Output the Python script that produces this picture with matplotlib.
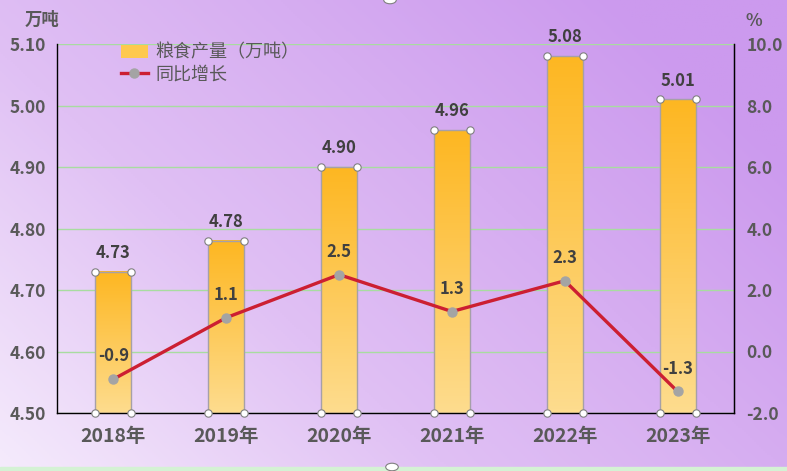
import numpy as np
import matplotlib.pyplot as plt
from matplotlib.colors import LinearSegmentedColormap
from matplotlib.patches import Circle, Rectangle

plt.rcParams['font.family'] = ['Noto Sans CJK SC', 'DejaVu Sans']

years = ["2018年", "2019年", "2020年", "2021年", "2022年", "2023年"]
output = [4.73, 4.78, 4.90, 4.96, 5.08, 5.01]        # 粮食产量 (万吨)
growth = [-0.9, 1.1, 2.5, 1.3, 2.3, -1.3]            # 同比增长 (%)

TXT = "#595959"
LBL = "#404040"
BAR_W = 0.32

fig = plt.figure(figsize=(7.87, 4.71), dpi=100)

# background gradient: light lavender bottom-left -> purple right
bg = fig.add_axes([0, 0, 1, 1], zorder=-10)
xx, yy = np.meshgrid(np.linspace(0, 1, 400), np.linspace(0, 1, 240))
t = np.clip(xx * 0.7 + yy * 0.45, 0, 1)
bg_cmap = LinearSegmentedColormap.from_list(
    "bg", [(0, "#f5ebfc"), (0.4, "#e0c0f4"), (1, "#cc9aee")])
bg.imshow(t, cmap=bg_cmap, origin="lower", extent=[0, 1, 0, 1], aspect="auto")
bg.add_patch(Rectangle((0, 0), 1, 4 / 471, color="#d4f2d4", transform=bg.transAxes))
bg.set_xlim(0, 1)
bg.set_ylim(0, 1)
bg.axis("off")
for cx, cy in [(390 / 787, 1.0), (392 / 787, 4 / 471)]:
    bg.add_patch(Circle((cx, cy), 0.008, facecolor="white", edgecolor="#808080",
                        lw=0.8, transform=bg.transAxes))

ax = fig.add_axes([57 / 787, 1 - 413 / 471, 677 / 787, 369 / 471])
ax.set_facecolor("none")
x = np.arange(len(years))

bar_cmap = LinearSegmentedColormap.from_list("bar", ["#fedc8e", "#fdb722"])
grad = np.linspace(0, 1, 100).reshape(-1, 1)
for xi, v in zip(x, output):
    ax.imshow(grad, cmap=bar_cmap, origin="lower", aspect="auto",
              extent=[xi - BAR_W / 2, xi + BAR_W / 2, 4.5, v], zorder=2)
bars = ax.bar(x, [v - 4.5 for v in output], bottom=4.5, width=BAR_W,
              facecolor="none", edgecolor="#a6a0a8", lw=1.0, zorder=3)
for xi, v in zip(x, output):
    ax.text(xi, v + 0.016, f"{v:.2f}", ha="center", va="bottom",
            fontsize=12, fontweight="bold", color=LBL, zorder=6)
    hx = [xi - BAR_W / 2, xi + BAR_W / 2, xi - BAR_W / 2, xi + BAR_W / 2]
    hy = [v, v, 4.5, 4.5]
    ax.scatter(hx, hy, s=28, facecolor="white", edgecolor="#808080",
               lw=0.8, zorder=7, clip_on=False)

ax.set_xlim(-0.5, len(years) - 0.5)
ax.set_ylim(4.5, 5.1)
ax.set_yticks(np.arange(4.5, 5.101, 0.1))
ax.set_yticklabels([f"{v:.2f}" for v in np.arange(4.5, 5.101, 0.1)])
ax.set_xticks(x)
ax.set_xticklabels(years)
ax.grid(axis="y", color="#a8dca0", lw=1.0, zorder=0)
ax.set_axisbelow(True)
ax.tick_params(axis="y", length=0, pad=8, labelsize=12.5, labelcolor=TXT)
ax.tick_params(axis="x", length=0, pad=10, labelsize=14, labelcolor=TXT)
for lab in ax.get_yticklabels() + ax.get_xticklabels():
    lab.set_fontweight("bold")
ax.spines["top"].set_visible(False)
for s in ["left", "bottom", "right"]:
    ax.spines[s].set_color("black")
    ax.spines[s].set_linewidth(1.0)

ax2 = ax.twinx()
ax2.set_ylim(-2, 10)
ax2.set_yticks(np.arange(-2, 10.1, 2))
ax2.set_yticklabels([f"{v:.1f}" for v in np.arange(-2, 10.1, 2)])
ax2.tick_params(axis="y", length=0, pad=9, labelsize=12.5, labelcolor=TXT)
for lab in ax2.get_yticklabels():
    lab.set_fontweight("bold")
for s in ["top", "left", "bottom"]:
    ax2.spines[s].set_visible(False)
ax2.spines["right"].set_color("black")
line, = ax2.plot(x, growth, color="#cc1f32", lw=2.4, marker="o", ms=6.5,
                 mfc="#a4a4a4", mec="#a4a4a4", zorder=5)
for xi, g in zip(x, growth):
    ax2.text(xi, g + 0.45, f"{g:.1f}", ha="center", va="bottom",
             fontsize=12, fontweight="bold", color=LBL, zorder=6)

leg = ax.legend([bars, line], ["粮食产量（万吨）", "同比增长"],
                loc="upper left", bbox_to_anchor=(0.07, 1.045), frameon=False,
                fontsize=13, handlelength=1.5, handletextpad=0.45,
                labelspacing=0.2)
leg.legend_handles[0].set_facecolor("#fec94e")
leg.legend_handles[0].set_edgecolor("none")
for txt in leg.get_texts():
    txt.set_color(TXT)

fig.text(25 / 787, 1 - 20 / 471, "万吨", fontsize=12.5, fontweight="bold",
         color=TXT, va="center", ha="left")
fig.text(746 / 787, 1 - 21 / 471, "%", fontsize=12.5, fontweight="bold",
         color=TXT, va="center", ha="left")

fig.savefig("out.png", dpi=100)
